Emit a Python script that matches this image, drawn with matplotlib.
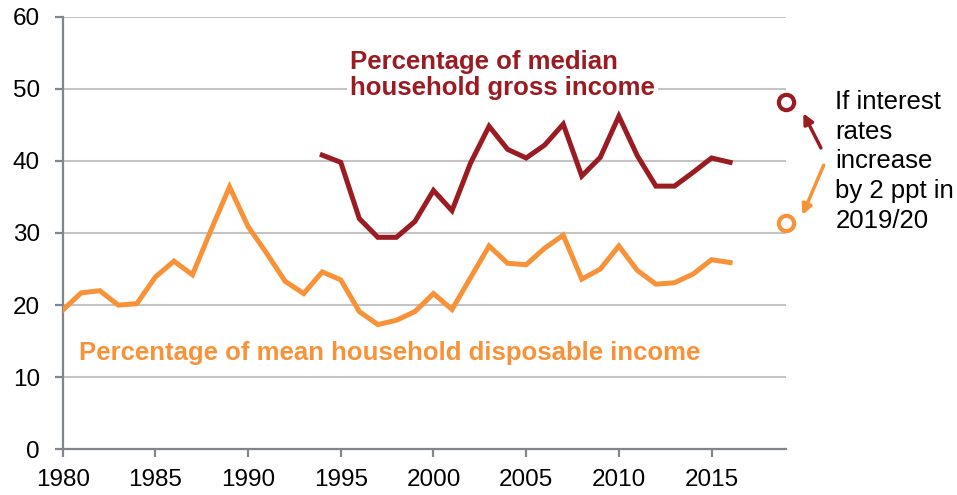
import matplotlib
matplotlib.use('Agg')
import matplotlib.pyplot as plt
import numpy as np

plt.rcParams['font.family'] = ['Liberation Sans', 'DejaVu Sans']

# mortgage payments, percentage of mean household disposable income
years_mean = np.arange(1980, 2017)
v_mean = [19.3, 21.7, 22.0, 20.0, 20.2, 23.9, 26.1, 24.2, 30.4, 36.4,
          30.9, 27.2, 23.3, 21.6, 24.6, 23.5, 19.1, 17.3, 17.9, 19.1,
          21.6, 19.4, 23.8, 28.2, 25.8, 25.6, 27.9, 29.7, 23.6, 25.0,
          28.2, 24.8, 22.9, 23.1, 24.3, 26.3, 25.9]

# percentage of median household gross income
years_median = np.arange(1994, 2017)
v_median = [40.8, 39.8, 32.0, 29.4, 29.4, 31.6, 35.9, 33.1, 39.7, 44.8,
            41.6, 40.4, 42.2, 45.1, 37.9, 40.5, 46.2, 40.7, 36.5, 36.5,
            38.4, 40.4, 39.8]

# scenario: interest rates up 2 ppt in 2019/20
scen_year = 2019
scen_median = 48.2
scen_mean = 31.4

dark = '#9B1B22'
orange = '#F79239'
axis_grey = '#80868B'

fig = plt.figure(figsize=(9.57, 4.95), dpi=100)
ax = fig.add_axes([0.0655, 0.0923, 0.7555, 0.874])

ax.plot(years_mean, v_mean, color=orange, lw=3.6, solid_joinstyle='miter', zorder=3)
ax.plot(years_median, v_median, color=dark, lw=3.6, solid_joinstyle='miter', zorder=3)
ax.plot([scen_year], [scen_median], 'o', ms=11, mfc='white', mec=dark, mew=3,
        clip_on=False, zorder=4)
ax.plot([scen_year], [scen_mean], 'o', ms=11, mfc='white', mec=orange, mew=3,
        clip_on=False, zorder=4)

ax.set_xlim(1980, 2019)
ax.set_ylim(0, 60)
ax.set_xticks(range(1980, 2016, 5))
ax.set_yticks(range(0, 61, 10))
ax.yaxis.grid(True, color='#C4C4C4', lw=1.5)
ax.set_axisbelow(True)
for s in ['top', 'right']:
    ax.spines[s].set_visible(False)
for s in ['left', 'bottom']:
    ax.spines[s].set_color(axis_grey)
    ax.spines[s].set_linewidth(1.6)
ax.tick_params(axis='both', colors=axis_grey, width=1.6, length=5.5,
               labelsize=17.5, labelcolor='black')
ax.tick_params(axis='x', pad=9)
ax.tick_params(axis='y', pad=11)

ax.text(1995.5, 51.9, 'Percentage of median\nhousehold gross income',
        color=dark, fontsize=18.5, fontweight='bold', va='center', ha='left',
        linespacing=1.12, zorder=2,
        bbox=dict(facecolor='white', edgecolor='none', pad=2))
ax.text(1980.9, 13.4, 'Percentage of mean household disposable income',
        color=orange, fontsize=18.5, fontweight='bold', va='center', ha='left',
        zorder=2)

fig.text(0.873, 0.674, 'If interest\nrates\nincrease\nby 2 ppt in\n2019/20',
         fontsize=18.5, va='center', ha='left', linespacing=1.3)

ax.annotate('', xy=(2019.95, 46.6), xytext=(2020.9, 41.8),
            annotation_clip=False,
            arrowprops=dict(arrowstyle='-|>', color=dark, lw=2.5,
                            mutation_scale=15, shrinkA=0, shrinkB=0))
ax.annotate('', xy=(2019.9, 32.5), xytext=(2021.05, 39.4),
            annotation_clip=False,
            arrowprops=dict(arrowstyle='-|>', color=orange, lw=2.5,
                            mutation_scale=15, shrinkA=0, shrinkB=0))

fig.savefig('out.png', dpi=100)
